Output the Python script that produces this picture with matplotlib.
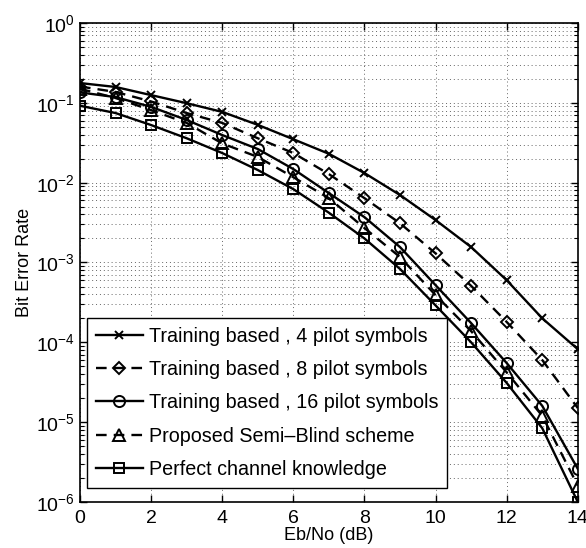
import numpy as np
import matplotlib
matplotlib.use("Agg")
import matplotlib.pyplot as plt
from matplotlib.ticker import LogLocator, NullFormatter, FixedLocator

plt.rcParams['font.family'] = ['Liberation Sans', 'DejaVu Sans']
plt.rcParams['mathtext.fontset'] = 'custom'
plt.rcParams['mathtext.rm'] = 'Liberation Sans'
plt.rcParams['mathtext.it'] = 'Liberation Sans'

ebno_db = [0, 1, 2, 3, 4, 5, 6, 7, 8, 9, 10, 11, 12, 13, 14]

ber_pilot4 = [0.177, 0.158, 0.125, 0.099, 0.077, 0.053, 0.035, 0.023, 0.0132,
              0.0070, 0.0034, 0.00156, 6.0e-4, 2.0e-4, 8.2e-5]
ber_pilot8 = [0.16, 0.137, 0.104, 0.0745, 0.056, 0.036, 0.0235, 0.0128, 0.0064,
              0.0031, 0.0013, 5.1e-4, 1.8e-4, 6.0e-5, 1.5e-5]
ber_pilot16 = [0.135, 0.118, 0.089, 0.061, 0.0395, 0.0264, 0.0148, 0.0074, 0.0037,
               0.00156, 5.2e-4, 1.74e-4, 5.5e-5, 1.6e-5, 2.6e-6]
ber_semiblind = [0.15, 0.115, 0.081, 0.056, 0.031, 0.021, 0.0117, 0.0064, 0.0027,
                 0.00117, 3.9e-4, 1.38e-4, 4.2e-5, 1.2e-5, 1.6e-6]
ber_perfect = [0.092, 0.0745, 0.0527, 0.036, 0.0235, 0.0144, 0.0083, 0.0042, 0.0020,
               8.3e-4, 2.9e-4, 1.0e-4, 3.1e-5, 8.4e-6, 1.0e-6]

labels = [
    "Training based , 4 pilot symbols",
    "Training based , 8 pilot symbols",
    "Training based , 16 pilot symbols",
    "Proposed Semi\u2013Blind scheme",
    "Perfect channel knowledge",
]
x_ticks = [0, 2, 4, 6, 8, 10, 12, 14]

fig = plt.figure(figsize=(5.86, 5.48), dpi=100)
ax = fig.add_axes([0.1365, 0.084, 0.8495, 0.874])

series = [
    (ber_pilot4, 'x', '-', 6),
    (ber_pilot8, 'D', '--', 6),
    (ber_pilot16, 'o', '-', 8),
    (ber_semiblind, '^', '--', 8),
    (ber_perfect, 's', '-', 6.5),
]
for (vals, mk, ls, ms), lab in zip(series, labels):
    line, = ax.semilogy(ebno_db, vals, color='black', linestyle=ls, linewidth=1.7,
                        marker=mk, markersize=ms, markerfacecolor='none',
                        markeredgecolor='black', markeredgewidth=1.4, label=lab)
    if ls == '--':
        line.set_dashes((4.5, 3))

ax.set_xlim(0, 14)
ax.set_ylim(1e-6, 1e0)
ax.xaxis.set_major_locator(FixedLocator(x_ticks))
ax.yaxis.set_major_locator(LogLocator(base=10, numticks=10))
ax.yaxis.set_minor_locator(LogLocator(base=10, subs=np.arange(2, 10), numticks=100))
ax.yaxis.set_minor_formatter(NullFormatter())

ax.grid(True, which='major', linestyle=(0, (1, 3)), color='#666666', linewidth=0.7)
ax.grid(True, which='minor', axis='y', linestyle=(0, (1, 3)), color='#666666', linewidth=0.7)

ax.tick_params(which='both', direction='in', top=True, right=True, labelsize=14)
ax.tick_params(axis='x', pad=6)
ax.tick_params(which='major', length=5, width=1)
ax.tick_params(which='minor', length=3, width=0.8)
for sp in ax.spines.values():
    sp.set_linewidth(1.2)

ax.set_xlabel("Eb/No (dB)", fontsize=13, labelpad=0)
ax.set_ylabel("Bit Error Rate", fontsize=13, labelpad=2)

leg = ax.legend(loc='lower left', bbox_to_anchor=(0.014, 0.03), fontsize=14.2,
                frameon=True, fancybox=False, edgecolor='black', framealpha=1,
                handlelength=2.4, handletextpad=0.3, labelspacing=0.72,
                borderpad=0.45, borderaxespad=0)
leg.get_frame().set_linewidth(1.0)

fig.savefig("out.png", dpi=100)
